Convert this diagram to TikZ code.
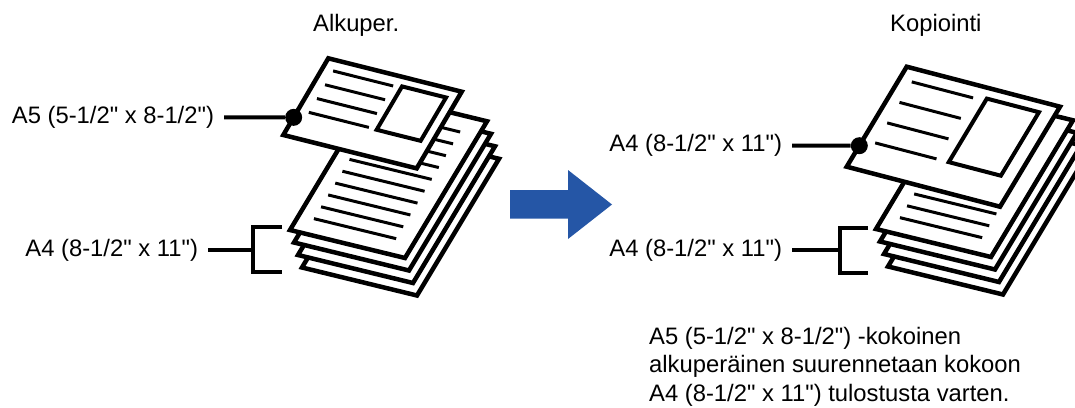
\documentclass[tikz,border=0pt]{standalone}
\usepackage{fontspec}
\setmainfont{Liberation Sans}[Ligatures=TeXOff]
\definecolor{arrowblue}{RGB}{37,86,166}

\begin{document}
\begin{tikzpicture}
[x=1pt,y=-1pt,
 sheet/.style={draw=black,fill=white,line width=4.5pt},
 rule/.style={line width=3pt},
 wire/.style={line width=4pt},
 txt/.style={font=\fontsize{23.8}{28.5}\selectfont,inner sep=0pt},
 tagtxt/.style={txt,outer xsep=10pt,anchor=east},
 blob/.style={circle,fill=black,inner sep=0pt,minimum size=17pt}
]
\useasboundingbox (0,0) rectangle (1075,407);
\clip (0,0) rectangle (1075,407);

% A4 stacks, left and right
\foreach \dx/\dy in {0/0,586/-1}{
\foreach \k in {3,2,1,0}{
\begin{scope}[shift={(372+\dx+4*\k,93.3+\dy+12.5*\k)},x={(115pt,-28pt)},y={(-82pt,-136.7pt)}]
\draw[sheet] (0,0) -- (1,0) -- (1,1) -- (0,1) -- cycle;
\foreach \v in {0,...,9}
  \draw[rule] (0.13,0.11+0.0867*\v) -- (0.845,0.11+0.0867*\v);
\end{scope}
}}

% A5 sheet on top of the left stack
\begin{scope}[shift={(328.3,58.3)},x={(133.4pt,-33.4pt)},y={(-45pt,-76.7pt)}]
\draw[sheet] (0,0) -- (1,0) -- (1,1) -- (0,1) -- cycle;
\foreach \v in {0.13,0.31,0.49,0.67}
  \draw[rule] (0.08,\v) -- (0.53,\v);
\draw[rule,line width=4pt] (0.59,0.11) -- (0.92,0.11) -- (0.92,0.675) -- (0.59,0.675) -- cycle;
\node[blob] (dotA5) at (0,0.77) {};
\end{scope}

% enlarged sheet on top of the right stack
\begin{scope}[shift={(906.7,66.7)},x={(153.3pt,-40pt)},y={(-60pt,-100pt)}]
\draw[sheet] (0,0) -- (1,0) -- (1,1) -- (0,1) -- cycle;
\foreach \v in {0.12,0.325,0.53,0.73}
  \draw[rule] (0.08,\v) -- (0.48,\v);
\draw[rule,line width=4pt] (0.56,0.095) -- (0.9,0.095) -- (0.9,0.73) -- (0.56,0.73) -- cycle;
\node[blob] (dotCopy) at (0,0.79) {};
\end{scope}

% big arrow
\fill[arrowblue] (510,190) -- (568,190) -- (568,170) -- (612,204.5) -- (568,239) -- (568,218.5) -- (510,218.5) -- cycle;

% headings
\node[txt,anchor=base west] (origHead) at (313,31.5) {Alkuper.};
\node[txt,anchor=base west] (copyHead) at (890,31) {Kopiointi};

% size labels
\node[tagtxt] (origA5) at (224,117.4) {A5 (5-1/2" x 8-1/2")};
\node[tagtxt] (origA4) at (208,250) {A4 (8-1/2" x 11")};
\node[tagtxt] (copyA4) at (792,145.7) {A4 (8-1/2" x 11")};
\node[tagtxt] (copyStack) at (792,250) {A4 (8-1/2" x 11")};

\coordinate (origBrace) at (253,250);
\coordinate (copyBrace) at (840,250);
\draw[wire] (282,227) -- (origBrace |- 0,227) -- (origBrace |- 0,272) -- (282,272);
\draw[wire] (868,228) -- (copyBrace |- 0,228) -- (copyBrace |- 0,273) -- (868,273);

\draw[wire] (origA5) -- (dotA5);
\draw[wire] (origA4) -- (origBrace);
\draw[wire] (copyA4) -- (dotCopy);
\draw[wire] (copyStack) -- (copyBrace);

\node[txt,anchor=north west,align=left] (note) at (649,327)
  {A5 (5-1/2" x 8-1/2") -kokoinen\\alkuperäinen suurennetaan kokoon\\A4 (8-1/2" x 11") tulostusta varten.};
\end{tikzpicture}
\end{document}
